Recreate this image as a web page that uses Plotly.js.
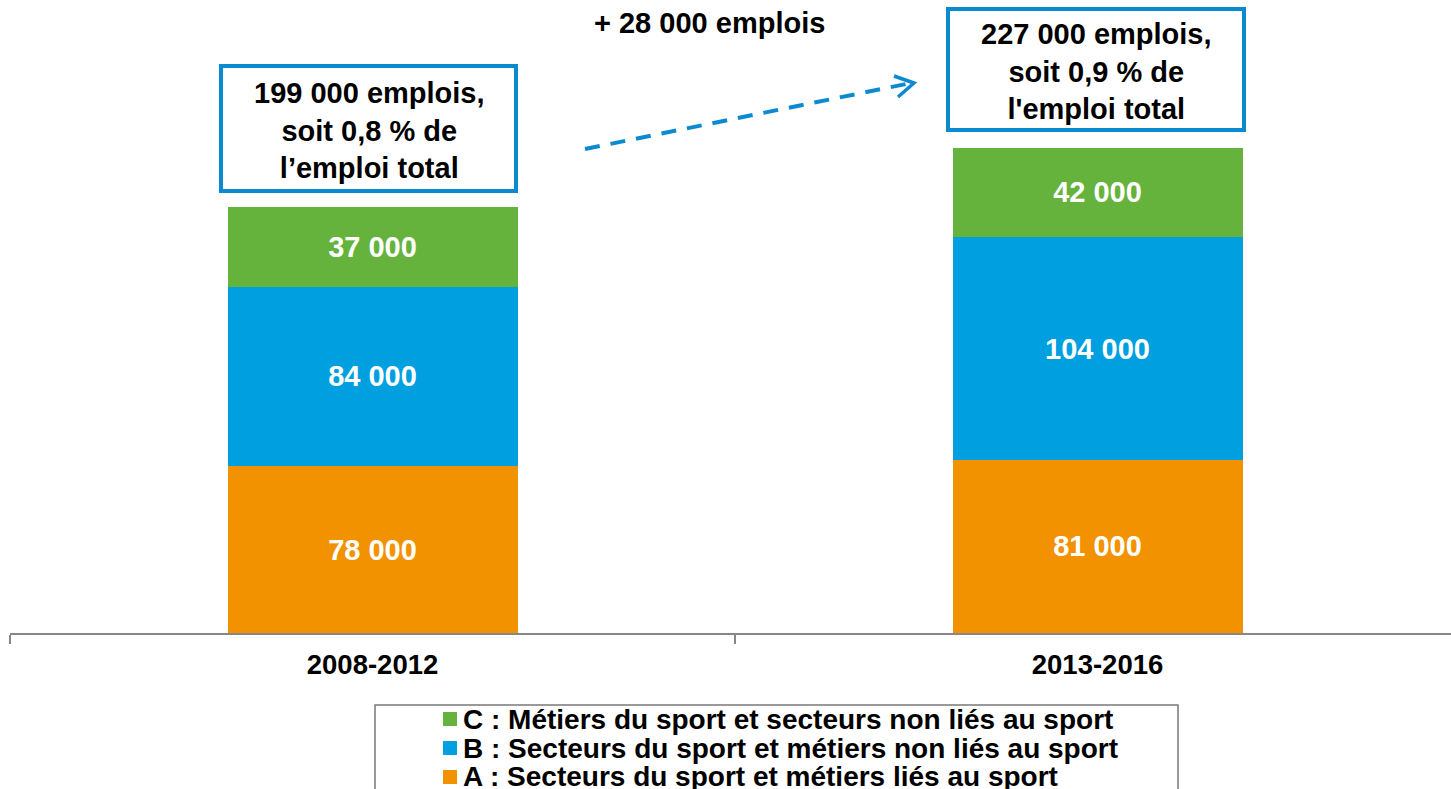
<!DOCTYPE html>
<html>
<head>
<meta charset="utf-8">
<script src="https://cdn.plot.ly/plotly-3.0.1.min.js"></script>
<style>html,body{margin:0;padding:0;background:#fff;}#chart{width:1451px;height:789px;}</style>
</head>
<body>
<div id="chart"></div>
<script>
// ---- Data ----
const periods = ["2008-2012", "2013-2016"];
const seriesA = [78000, 81000];   // A : Secteurs du sport et métiers liés au sport
const seriesB = [84000, 104000];  // B : Secteurs du sport et métiers non liés au sport
const seriesC = [37000, 42000];   // C : Métiers du sport et secteurs non liés au sport
const seriesNames = [
  "A : Secteurs du sport et métiers liés au sport",
  "B : Secteurs du sport et métiers non liés au sport",
  "C : Métiers du sport et secteurs non liés au sport"
];
const totalLabels = [
  "199 000 emplois,<br>soit 0,8 % de<br>l’emploi total",
  "227 000 emplois,<br>soit 0,9 % de<br>l'emploi total"
];
const changeLabel = "+ 28 000 emplois";

// ---- Styles ----
const colors = ["#F39200", "#009FE0", "#65B33D"];
const FONT = "Liberation Sans, Arial, sans-serif";
const W = 1451, H = 789, ML = 10, MR = 0, MT = 0, MB = 156;
const PW = W - ML - MR, PH = H - MT - MB;
const px = x => (x - ML) / PW;
const py = y => (H - MB - y) / PH;

function barTrace(vals, i) {
  return {
    type: "bar", x: periods, y: vals, name: seriesNames[i],
    marker: {color: colors[i], line: {width: 0}},
    width: 0.4,
    texttemplate: "%{y:,}", textposition: "inside", insidetextanchor: "middle",
    textangle: 0, constraintext: "none",
    textfont: {family: FONT, size: 29, color: "#ffffff", weight: "bold"},
    hoverinfo: "x+y+name", showlegend: false
  };
}
const data = [barTrace(seriesA, 0), barTrace(seriesB, 1), barTrace(seriesC, 2)];

const boxBlue = "#0A8AD0";
const shapes = [
  // total boxes
  {type: "rect", xref: "paper", yref: "paper", x0: px(221), x1: px(516), y0: py(191), y1: py(66),
   line: {color: boxBlue, width: 4}, fillcolor: "#ffffff", layer: "above"},
  {type: "rect", xref: "paper", yref: "paper", x0: px(948), x1: px(1244), y0: py(130), y1: py(9),
   line: {color: boxBlue, width: 4}, fillcolor: "#ffffff", layer: "above"},
  // dashed arrow
  {type: "line", xref: "paper", yref: "paper", x0: px(585), y0: py(149), x1: px(911), y1: py(83),
   line: {color: boxBlue, width: 4, dash: "15px,11px"}},
  {type: "path", xref: "paper", yref: "paper",
   path: `M ${px(894)} ${py(76)} L ${px(914)} ${py(83)} L ${px(898)} ${py(97)}`,
   line: {color: boxBlue, width: 3.5}},
  // legend frame
  {type: "rect", xref: "paper", yref: "paper", x0: px(375), x1: px(1178), y0: py(805), y1: py(705),
   line: {color: "#7a7a7a", width: 1.5}, fillcolor: "rgba(0,0,0,0)"}
];
const annotations = [
  {xref: "paper", yref: "paper", x: px(369), y: py(130), text: totalLabels[0], showarrow: false,
   xanchor: "center", yanchor: "middle", align: "center",
   font: {family: FONT, size: 29, color: "#000", weight: "bold"}},
  {xref: "paper", yref: "paper", x: px(1096), y: py(71), text: totalLabels[1], showarrow: false,
   xanchor: "center", yanchor: "middle", align: "center",
   font: {family: FONT, size: 29, color: "#000", weight: "bold"}},
  {xref: "paper", yref: "paper", x: px(709), y: py(23), text: changeLabel, showarrow: false,
   xanchor: "center", yanchor: "middle",
   font: {family: FONT, size: 29, color: "#000", weight: "bold"}}
];
// custom legend (C, B, A top to bottom)
const legendOrder = [2, 1, 0];
legendOrder.forEach((s, k) => {
  const yc = 719 + k * 29;
  shapes.push({type: "rect", xref: "paper", yref: "paper", x0: px(443), x1: px(457),
    y0: py(yc + 7), y1: py(yc - 7), line: {width: 0}, fillcolor: colors[s]});
  annotations.push({xref: "paper", yref: "paper", x: px(461), y: py(yc), text: seriesNames[s],
    showarrow: false, xanchor: "left", yanchor: "middle",
    font: {family: FONT, size: 28, color: "#000", weight: "bold"}});
});

const layout = {
  width: W, height: H,
  margin: {l: ML, r: MR, t: MT, b: MB, pad: 0},
  paper_bgcolor: "#ffffff", plot_bgcolor: "#ffffff",
  separators: ", ",
  barmode: "stack", showlegend: false,
  xaxis: {
    type: "category", range: [-0.5, -0.5 + PW / 725], fixedrange: true,
    showline: true, linecolor: "#878787", linewidth: 2,
    ticks: "outside", tickson: "boundaries", ticklen: 9, tickwidth: 2, tickcolor: "#878787",
    showgrid: false, zeroline: false,
    tickfont: {family: FONT, size: 27.5, color: "#000", weight: "bold"},
    ticklabelstandoff: 6
  },
  yaxis: {range: [0, 296000], visible: false, showgrid: false, zeroline: false, fixedrange: true},
  shapes: shapes, annotations: annotations
};

Plotly.newPlot("chart", data, layout, {displayModeBar: false, staticPlot: true});
</script>
</body>
</html>
